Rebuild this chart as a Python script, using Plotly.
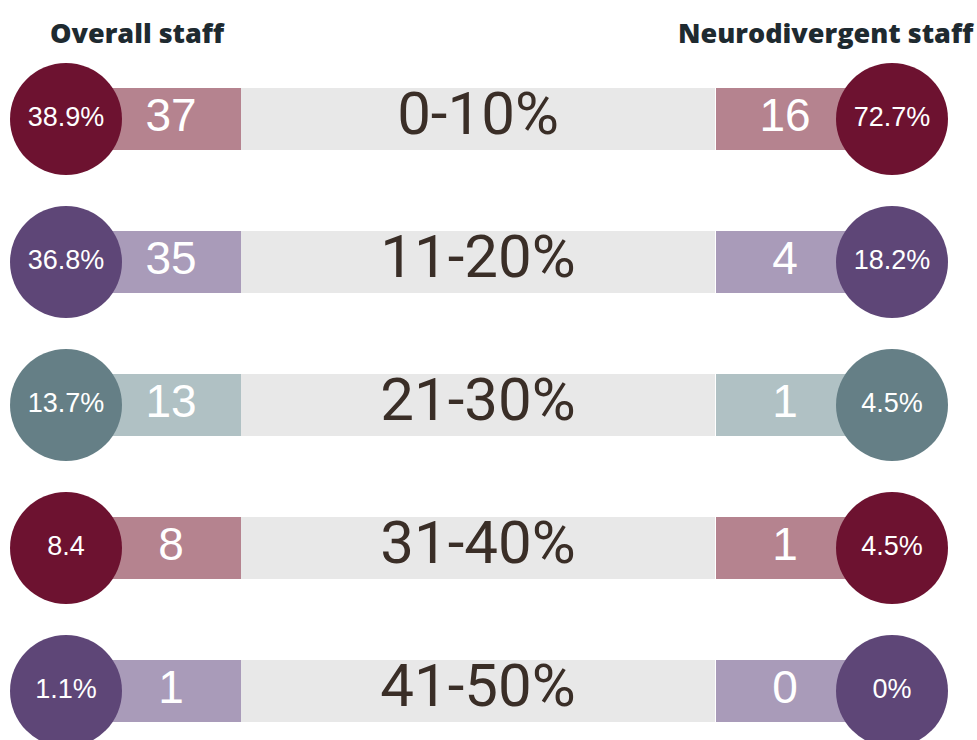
import plotly.graph_objects as go

# ---- data ----
categories = ["0-10%", "11-20%", "21-30%", "31-40%", "41-50%"]
overall_counts = [37, 35, 13, 8, 1]
overall_pct_labels = ["38.9%", "36.8%", "13.7%", "8.4", "1.1%"]
neuro_counts = [16, 4, 1, 1, 0]
neuro_pct_labels = ["72.7%", "18.2%", "4.5%", "4.5%", "0%"]

# ---- styles ----
dark_cols = ["#6d1230", "#5e4677", "#657f86", "#6d1230", "#5e4677"]
light_cols = ["#b5838f", "#a99bb9", "#b0c1c4", "#b5838f", "#a99bb9"]
gray = "#e8e8e8"

W, H = 977, 740
n = len(categories)
bw = 0.434

fig = go.Figure()

# left coloured bars
fig.add_trace(go.Bar(y=categories, x=[141] * n, base=[100] * n, orientation="h",
                     marker=dict(color=light_cols, line=dict(width=0)), width=bw,
                     hoverinfo="skip", showlegend=False))
# grey centre bars
fig.add_trace(go.Bar(y=categories, x=[474] * n, base=[241] * n, orientation="h",
                     marker=dict(color=gray, line=dict(width=0)), width=bw,
                     hoverinfo="skip", showlegend=False))
# right coloured bars
fig.add_trace(go.Bar(y=categories, x=[150] * n, base=[716] * n, orientation="h",
                     marker=dict(color=light_cols, line=dict(width=0)), width=bw,
                     hoverinfo="skip", showlegend=False))

# counts
fig.add_trace(go.Scatter(y=categories, x=[171] * n, mode="text",
                         text=[str(v) for v in overall_counts],
                         textfont=dict(family="Liberation Sans, Arial", size=46, color="white"),
                         hoverinfo="skip", showlegend=False))
fig.add_trace(go.Scatter(y=categories, x=[785] * n, mode="text",
                         text=[str(v) for v in neuro_counts],
                         textfont=dict(family="Liberation Sans, Arial", size=46, color="white"),
                         hoverinfo="skip", showlegend=False))
# category labels
fig.add_trace(go.Scatter(y=categories, x=[478] * n, mode="text", text=categories,
                         textfont=dict(family="Roboto", size=60, color="#3a2e27"),
                         hoverinfo="skip", showlegend=False))

# circles
fig.add_trace(go.Scatter(y=categories, x=[66] * n, mode="markers+text",
                         marker=dict(size=112, color=dark_cols, line=dict(width=0)),
                         text=overall_pct_labels, textposition="middle center",
                         textfont=dict(family="Liberation Sans, Arial", size=27, color="white"),
                         hoverinfo="skip", showlegend=False))
fig.add_trace(go.Scatter(y=categories, x=[892] * n, mode="markers+text",
                         marker=dict(size=112, color=dark_cols, line=dict(width=0)),
                         text=neuro_pct_labels, textposition="middle center",
                         textfont=dict(family="Liberation Sans, Arial", size=27, color="white"),
                         hoverinfo="skip", showlegend=False))

row_px = 143.0
top_px = 119.0
fig.update_layout(
    width=W, height=H,
    margin=dict(l=0, r=0, t=0, b=0),
    paper_bgcolor="white", plot_bgcolor="white",
    barmode="overlay",
    xaxis=dict(range=[0, W], visible=False, fixedrange=True),
    yaxis=dict(type="category", categoryorder="array", categoryarray=categories,
               range=[(H - top_px) / row_px, -top_px / row_px],
               visible=False, fixedrange=True),
    annotations=[
        dict(text="Overall staff", xref="paper", yref="paper",
             x=137 / W, y=1 - 33 / H, xanchor="center", yanchor="middle", showarrow=False,
             font=dict(family="Open Sans", size=27, weight=800, color="#1e2a30")),
        dict(text="Neurodivergent staff", xref="paper", yref="paper",
             x=976 / W, y=1 - 33 / H, xanchor="right", yanchor="middle", showarrow=False,
             font=dict(family="Open Sans", size=27, weight=800, color="#1e2a30")),
    ],
)

fig.write_html("out.html", config={"displayModeBar": False},
               post_script="document.body.style.margin='0';document.body.style.overflow='hidden';")
